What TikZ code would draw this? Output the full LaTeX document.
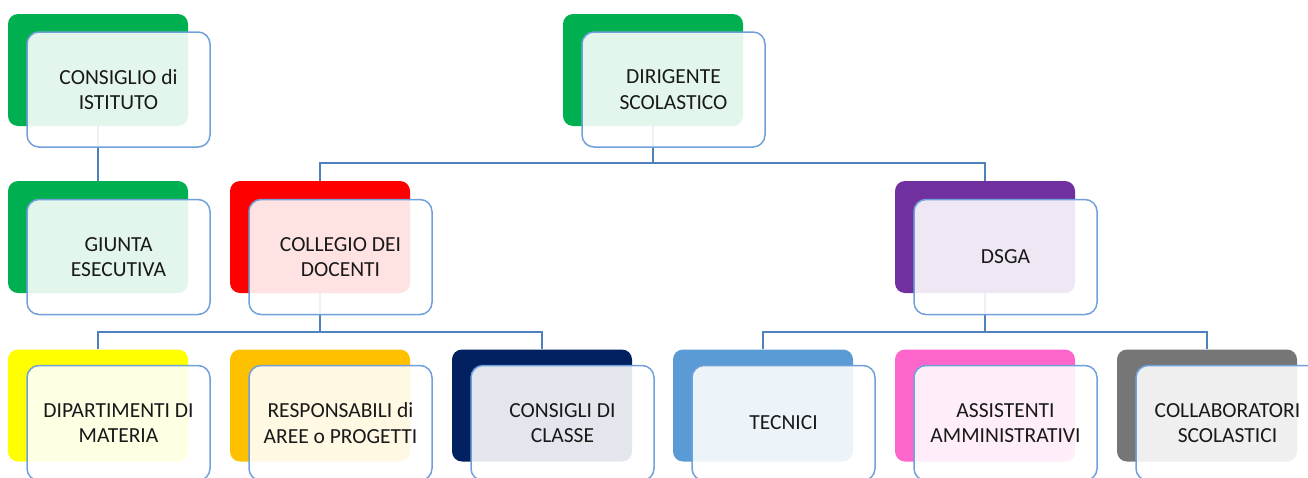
\documentclass[tikz,border=0pt]{standalone}
\usepackage{fontspec}
\setmainfont{Carlito}
\usetikzlibrary{backgrounds}
\definecolor{linkblue}{RGB}{79, 129, 189}
\definecolor{edgeblue}{RGB}{112, 160, 218}
\definecolor{cgreen}{RGB}{0, 176, 80}
\definecolor{cred}{RGB}{255, 0, 0}
\definecolor{cpurple}{RGB}{112, 48, 160}
\definecolor{cyellow}{RGB}{255, 255, 0}
\definecolor{corange}{RGB}{255, 192, 0}
\definecolor{cnavy}{RGB}{0, 32, 96}
\definecolor{csky}{RGB}{91, 155, 213}
\definecolor{cpink}{RGB}{255, 102, 204}
\definecolor{cgray}{RGB}{118, 118, 118}
\tikzset{
  backbox/.style  = {shape=rectangle, rounded corners=10pt, inner sep=0pt,
                     minimum width=180pt, minimum height=112pt},
  frontbox/.style = {shape=rectangle, rounded corners=12pt, align=center,
                     minimum width=183pt, minimum height=115pt,
                     draw=edgeblue, line width=1.5pt,
                     fill=white, fill opacity=0.89, text opacity=1,
                     text=black!90, font=\fontsize{21.5}{25.5}\selectfont},
  link/.style     = {draw=linkblue, line width=1.8pt}
}

\begin{document}
\begin{tikzpicture}[x=1pt, y=-1pt]
  \useasboundingbox (0,0) rectangle (1308,477);
  \coordinate (busA) at (0,163);
  \coordinate (busB) at (0,332);
  % top row
  \node [backbox, fill=cgreen] (consB) at (98,70) {};
  \node [frontbox] (cons) at (118.5,89.5) {CONSIGLIO di\\ISTITUTO};
  \node [backbox, fill=cgreen] (dirB) at (653,70) {};
  \node [frontbox] (dir) at (673.5,89.5) {DIRIGENTE\\SCOLASTICO};
  % second row
  \node [backbox, fill=cgreen] (giuB) at (98,237) {};
  \node [frontbox] (giu) at (118.5,257) {GIUNTA\\ESECUTIVA};
  \node [backbox, fill=cred] (colB) at (320,237) {};
  \node [frontbox] (col) at (340.5,257) {COLLEGIO DEI\\DOCENTI};
  \node [backbox, fill=cpurple] (dsgB) at (985,237) {};
  \node [frontbox] (dsg) at (1005.5,257) {DSGA};
  % third row
  \node [backbox, fill=cyellow] (dipB) at (98,405.5) {};
  \node [frontbox] (dip) at (118.5,423) {DIPARTIMENTI DI\\MATERIA};
  \node [backbox, fill=corange] (resB) at (320,405.5) {};
  \node [frontbox] (res) at (340.5,423) {RESPONSABILI di\\AREE o PROGETTI};
  \node [backbox, fill=cnavy] (claB) at (542,405.5) {};
  \node [frontbox] (cla) at (562.5,423) {CONSIGLI DI\\CLASSE};
  \node [backbox, fill=csky] (tecB) at (763,405.5) {};
  \node [frontbox] (tec) at (783.5,423) {TECNICI};
  \node [backbox, fill=cpink] (assB) at (985,405.5) {};
  \node [frontbox] (ass) at (1005.5,423) {ASSISTENTI\\AMMINISTRATIVI};
  \node [backbox, fill=cgray] (colsB) at (1207,405.5) {};
  \node [frontbox] (cols) at (1227.5,423) {COLLABORATORI\\SCOLASTICI};
  % connectors
  \begin{pgfonlayer}{background}
  \path[link] (consB) -- (giuB);
  \path[link] (dirB.south) -- (dirB.south |- busA) -| (colB.north);
  \path[link] (dirB.south |- busA) -| (dsgB.north);
  \path[link] (colB.south) -- (colB.south |- busB) -| (dipB.north);
  \path[link] (colB.south |- busB) -| (claB.north);
  \path[link] (dsgB.south) -- (dsgB.south |- busB) -| (tecB.north);
  \path[link] (dsgB.south |- busB) -| (colsB.north);
  \end{pgfonlayer}
\end{tikzpicture}
\end{document}
